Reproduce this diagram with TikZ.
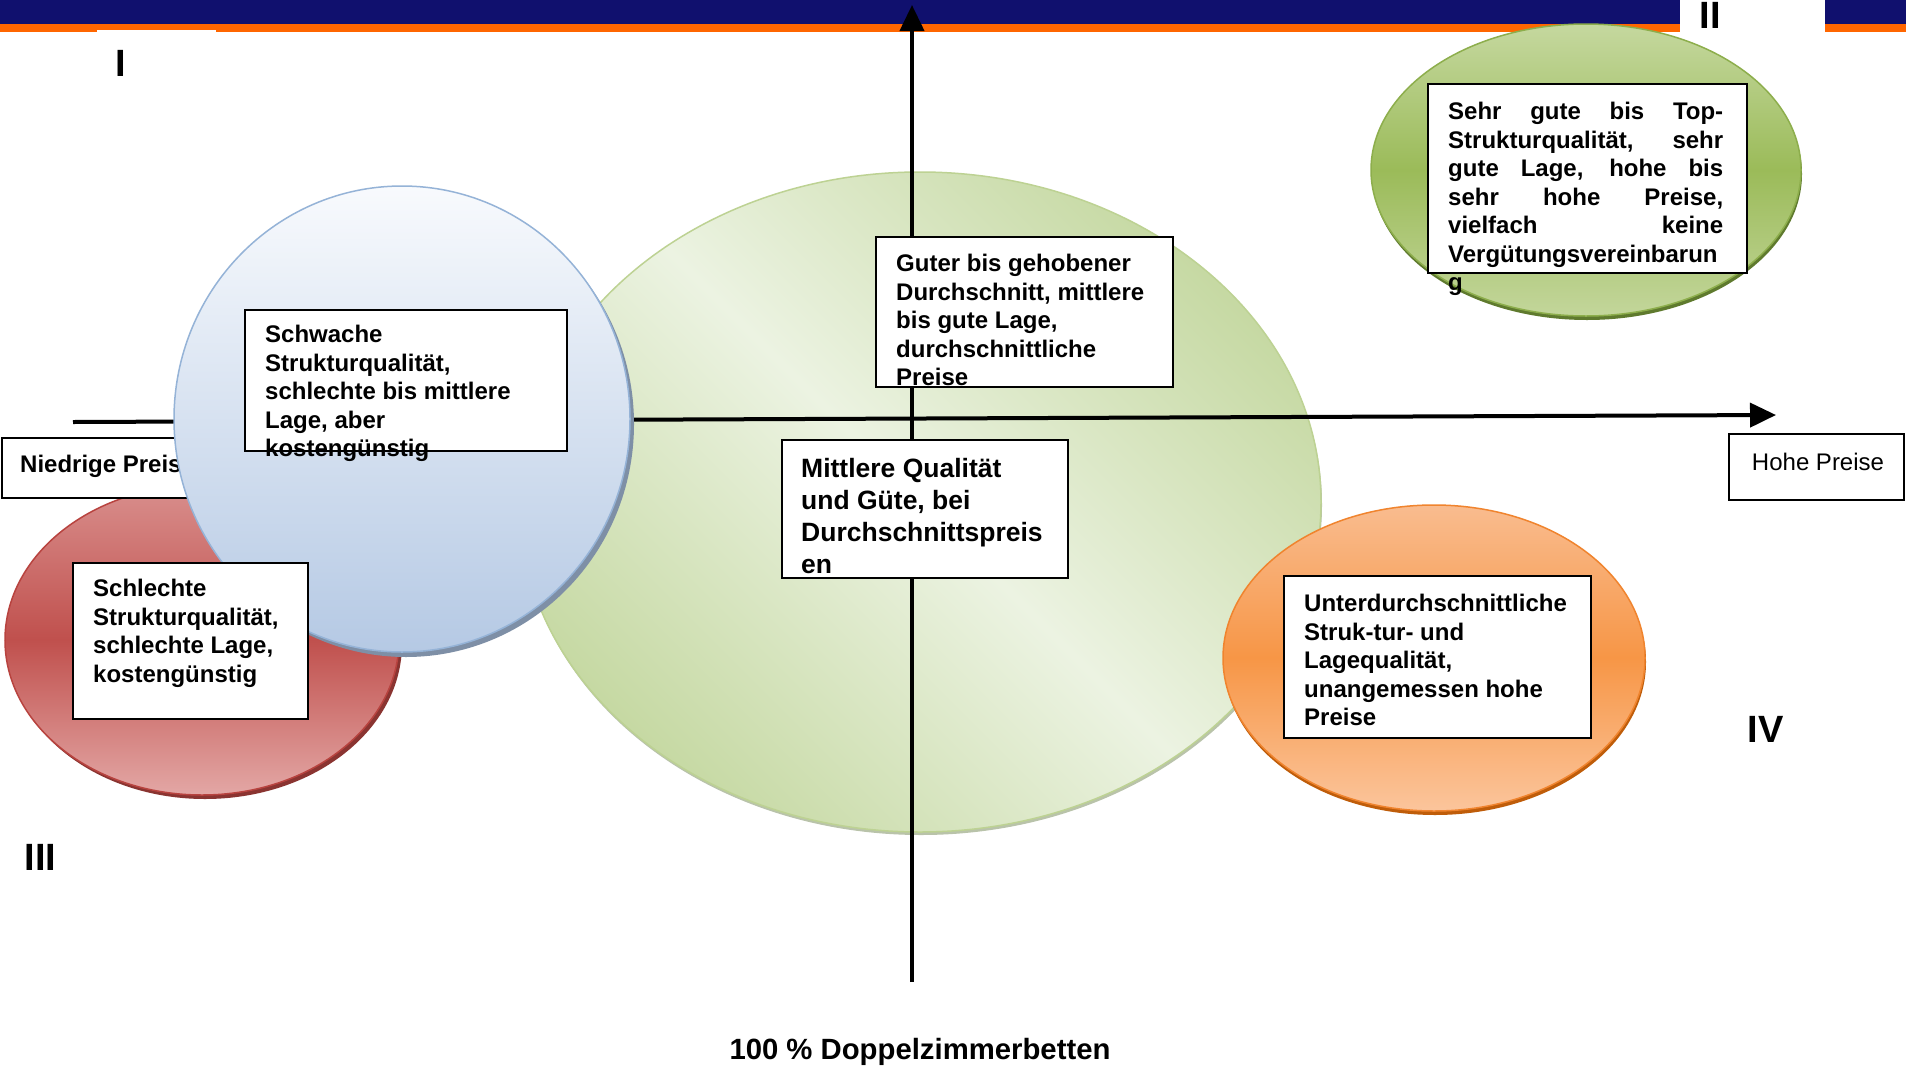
\documentclass[tikz,border=0pt]{standalone}
\usepackage{fontspec}
\setmainfont{Liberation Sans}
\usetikzlibrary{arrows.meta}
\definecolor{barnavy}{HTML}{10106E}
\definecolor{barorange}{HTML}{FF6600}
\definecolor{bigdark}{HTML}{C6D9A3}
\definecolor{biglight}{HTML}{ECF3E2}
\definecolor{bigline}{HTML}{BDD293}
\definecolor{bigshadow}{HTML}{B9C3AA}
\definecolor{tgtop}{HTML}{C5D89F}
\definecolor{tgmid}{HTML}{9BBB59}
\definecolor{tgbot}{HTML}{C3D69B}
\definecolor{tgline}{HTML}{8DAE4C}
\definecolor{tgshadow}{HTML}{5F7A2E}
\definecolor{bltop}{HTML}{F8FAFD}
\definecolor{blbot}{HTML}{B5C9E4}
\definecolor{blline}{HTML}{95B3D7}
\definecolor{blshadow}{HTML}{7E8FA6}
\definecolor{rdtop}{HTML}{D98F8D}
\definecolor{rdmid}{HTML}{C0504D}
\definecolor{rdbot}{HTML}{E3A7A5}
\definecolor{rdline}{HTML}{B8433F}
\definecolor{rdshadow}{HTML}{8A3431}
\definecolor{ortop}{HTML}{F9BC8F}
\definecolor{ormid}{HTML}{F79646}
\definecolor{orbot}{HTML}{FBC59C}
\definecolor{orline}{HTML}{F0842E}
\definecolor{orshadow}{HTML}{BF5D0A}
\begin{document}
\begin{tikzpicture}[x=1pt,y=-1pt,
  box/.style={draw=black, line width=2.2pt, fill=white, anchor=north west, inner sep=0pt},
  txt/.style={anchor=north west, inner sep=0pt, align=left, font=\fontsize{24}{28.5}\selectfont\bfseries},
  bigtxt/.style={anchor=north west, inner sep=0pt, align=left, font=\fontsize{26.5}{32}\selectfont\bfseries},
  roman/.style={anchor=base west, inner sep=0pt, font=\fontsize{38}{44}\selectfont\bfseries},
  axisline/.style={line width=4pt, -{Triangle[length=26pt,width=24pt]}},
]
\useasboundingbox (0,0) rectangle (1906,1066);
\fill[white] (0,0) rectangle (1906,1066);
% top bar
\fill[barnavy] (0,0) rectangle (1680,24);
\fill[barnavy] (1825,0) rectangle (1906,24);
\fill[barorange] (0,24) rectangle (1680,32);
\fill[barorange] (1825,24) rectangle (1906,32);
\fill[white] (97,30) rectangle (216,34);
% big green ellipse
\fill[bigshadow] (921,505) ellipse [x radius=401pt, y radius=330pt];
\shadedraw[draw=bigline, line width=1.5pt, top color=bigdark, bottom color=bigdark, middle color=biglight, shading angle=-45] (920,502) ellipse [x radius=401pt, y radius=330pt];
% top-right green ellipse
\fill[tgshadow] (1587,174) ellipse [x radius=215pt, y radius=146pt];
\shadedraw[draw=tgline, line width=1.5pt, top color=tgtop, bottom color=tgbot, middle color=tgmid] (1586,170) ellipse [x radius=215pt, y radius=146pt];
% red ellipse
\fill[rdshadow] (205,644) ellipse [x radius=197pt, y radius=155pt];
\shadedraw[draw=rdline, line width=1.5pt, top color=rdtop, bottom color=rdbot, middle color=rdmid] (202,640) ellipse [x radius=197pt, y radius=155pt];
% low price box
\node[box, minimum width=230pt, minimum height=60pt] (bNiedrig) at (1,437) {};
\node[anchor=base west, inner sep=0pt, font=\fontsize{24}{28}\selectfont\bfseries] (tNiedrig) at (20,472) {Niedrige Preis};
% axes
\coordinate (hstart) at (73,422);
\coordinate (hend) at (1776,415);
\coordinate (vstart) at (912,982);
\coordinate (vend) at (912,5);
\draw[axisline] (hstart) -- (hend);
\draw[axisline] (vstart) -- (vend);
% blue circle
\fill[blshadow] (406,424) ellipse [x radius=228pt, y radius=233pt];
\shadedraw[draw=blline, line width=1.5pt, top color=bltop, bottom color=blbot] (402,419) ellipse [x radius=228pt, y radius=233pt];
% orange ellipse
\fill[orshadow] (1435,662) ellipse [x radius=211pt, y radius=153pt];
\shadedraw[draw=orline, line width=1.5pt, top color=ortop, bottom color=orbot, middle color=ormid] (1434,658) ellipse [x radius=211pt, y radius=153pt];
% high price box
\node[box, minimum width=175pt, minimum height=66pt] (bHoch) at (1728,433) {};
\node[anchor=base, inner sep=0pt, font=\fontsize{24}{28}\selectfont] (tHoch) at (1818,470) {Hohe Preise};
% text boxes
\node[box, minimum width=322pt, minimum height=141pt] (bSchwach) at (244,309) {};
\node[txt] (tSchwach) at (265,320.5) {\rule{0pt}{22pt}Schwache\\Strukturqualität,\\schlechte bis mittlere\\Lage, aber\\kostengünstig};
\node[box, minimum width=297pt, minimum height=150pt] (bGuter) at (875,236) {};
\node[txt] (tGuter) at (896,249.5) {\rule{0pt}{22pt}Guter bis gehobener\\Durchschnitt, mittlere\\bis gute Lage,\\durchschnittliche\\Preise};
\node[box, minimum width=286pt, minimum height=138pt] (bMittel) at (781,439) {};
\node[bigtxt] (tMittel) at (801,452) {\rule{0pt}{25pt}Mittlere Qualität\\und Güte, bei\\Durchschnittspreis\\en};
\node[box, minimum width=319pt, minimum height=189pt] (bTop) at (1427,83) {};
\node[txt] (tTop) at (1448,97.5) {\rule{0pt}{22pt}\makebox[275pt][s]{Sehr gute bis Top-}\\\makebox[275pt][s]{Strukturqualität, sehr}\\\makebox[275pt][s]{gute Lage, hohe bis}\\\makebox[275pt][s]{sehr hohe Preise,}\\\makebox[275pt][s]{vielfach keine}\\Vergütungsvereinbarun\\g};
\node[box, minimum width=307pt, minimum height=162pt] (bUnter) at (1283,575) {};
\node[txt] (tUnter) at (1304,589.5) {\rule{0pt}{22pt}Unterdurchschnittliche\\Struk-tur- und\\Lagequalität,\\unangemessen hohe\\Preise};
\node[box, minimum width=235pt, minimum height=156pt] (bSchlecht) at (72,562) {};
\node[txt] (tSchlecht) at (93,574.5) {\rule{0pt}{22pt}Schlechte\\Strukturqualität,\\schlechte Lage,\\kostengünstig};
% quadrant labels
\node[roman] (qI) at (115.5,76) {I};
\node[roman] (qII) at (1699.5,28) {II};
\node[roman] (qIII) at (24.5,870) {III};
\node[roman] (qIV) at (1747.5,742) {IV};
% bottom label
\node[anchor=base, inner sep=0pt, font=\fontsize{29.3}{33}\selectfont\bfseries] (tBottom) at (920,1059) {100 \% Doppelzimmerbetten};
\end{tikzpicture}
\end{document}
